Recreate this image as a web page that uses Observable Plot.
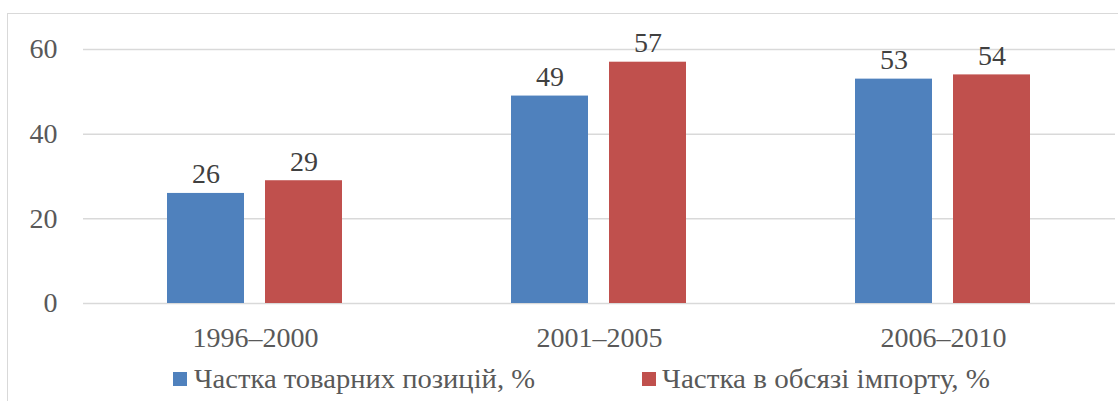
<!DOCTYPE html>
<html>
<head>
<meta charset="utf-8">
<script src="https://cdn.jsdelivr.net/npm/d3@7"></script>
<script src="https://cdn.jsdelivr.net/npm/@observablehq/plot@0.6"></script>
<style>
  html, body { margin: 0; padding: 0; background: #fff; }
  #wrap { position: relative; width: 1118px; height: 401px; overflow: hidden; font-family: "Liberation Serif", "Times New Roman", serif; }
  #frame { position: absolute; left: 7px; top: 13px; width: 1200px; height: 500px; border-left: 1.5px solid #d9d9d9; border-top: 1.5px solid #d9d9d9; }
  #chart { position: absolute; left: 0; top: 0; }
  #legend { position: absolute; left: 0; top: 355px; }
</style>
</head>
<body>
<div id="wrap">
  <div id="frame"></div>
  <div id="chart"></div>
  <svg id="legend" width="1118" height="46"></svg>
</div>
<script>
const categories = ["1996–2000", "2001–2005", "2006–2010"];
const series = ["Частка товарних позицій, %", "Частка в обсязі імпорту, %"];
const seriesColors = ["#4F81BD", "#C0504D"];
const positionsShare = [26, 49, 53];
const importShare = [29, 57, 54];
const yTicks = [0, 20, 40, 60];

const data = [];
categories.forEach((c, i) => {
  data.push({category: c, series: series[0], value: positionsShare[i]});
  data.push({category: c, series: series[1], value: importShare[i]});
});

const plot = Plot.plot({
  width: 1118,
  height: 360,
  marginLeft: 83,
  marginRight: 3,
  marginTop: 49,
  marginBottom: 57,
  style: {fontFamily: "'Liberation Serif', 'Times New Roman', serif", fontSize: "28px", color: "#595959", background: "transparent"},
  fx: {domain: categories, padding: 0, label: null, axis: "bottom", tickSize: 0, tickPadding: 24},
  x: {domain: series, paddingInner: 0.214, paddingOuter: 0.862, axis: null},
  y: {domain: [0, 60], ticks: yTicks, tickSize: 0, tickPadding: 26, label: null},
  color: {domain: series, range: seriesColors},
  marks: [
    Plot.ruleY(yTicks, {stroke: "#d9d9d9", strokeWidth: 1.5}),
    Plot.barY(data, {fx: "category", x: "series", y: "value", fill: "series"}),
    Plot.text(data, {fx: "category", x: "series", y: "value", text: d => String(d.value), dy: -19, fill: "#404040", fontSize: 28})
  ]
});
document.getElementById("chart").appendChild(plot);

// legend
const lg = d3.select("#legend");
const legendItems = [
  {x: 173, tx: 194, len: 341},
  {x: 642, tx: 662, len: 328}
];
series.forEach((s, i) => {
  lg.append("rect").attr("x", legendItems[i].x).attr("y", 17).attr("width", 14).attr("height", 14).attr("fill", seriesColors[i]);
  lg.append("text").attr("x", legendItems[i].tx).attr("y", 33)
    .attr("font-family", "'Liberation Serif', 'Times New Roman', serif")
    .attr("font-size", 28).attr("fill", "#595959")
    .attr("textLength", legendItems[i].len).attr("lengthAdjust", "spacingAndGlyphs")
    .text(s);
});
</script>
</body>
</html>
